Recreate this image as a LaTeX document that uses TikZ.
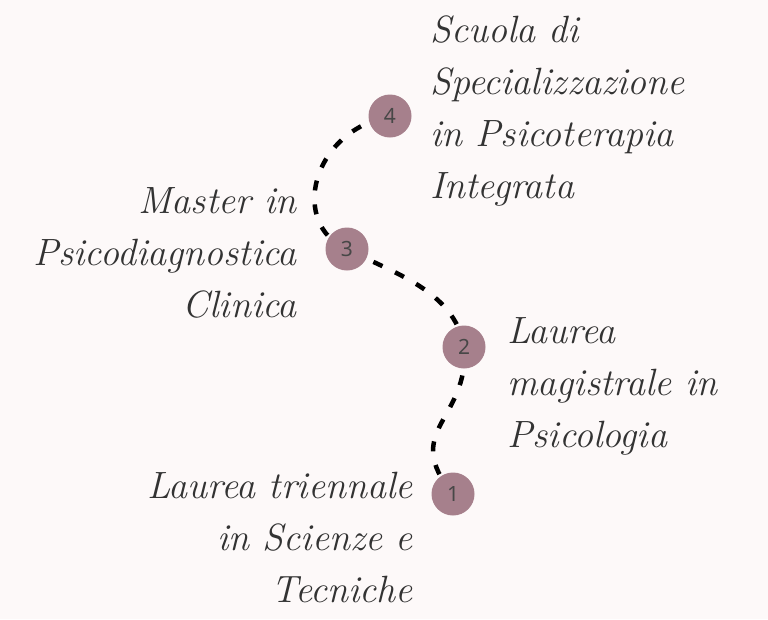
\documentclass[tikz,border=0pt]{standalone}
\usepackage{fontspec}
\newfontfamily\numfont{Noto Sans}
\usepackage{xcolor}
\definecolor{cMauve}{HTML}{A6808C}
\definecolor{cBlush}{HTML}{FDF9F9}
\definecolor{cInk}  {HTML}{333333}
\usepackage{tikz}
\usetikzlibrary{backgrounds}
\tikzset{
  stn/.style   = {circle, fill=cMauve, minimum size=43pt, inner sep=0pt,
                  font=\numfont\fontsize{21}{21}\selectfont, text=cInk!90},
  lbl/.style   = {inner sep=0pt, align=#1, text=cInk,
                  font=\itshape\fontsize{38}{52}\selectfont},
  lbl/.default = left,
  trail/.style = {line width=4.5pt, dash pattern=on 10pt off 14pt},
}

\begin{document}
\begin{tikzpicture}[x=1pt, y=-1pt]
  \useasboundingbox (0,0) rectangle (768,619);

  \node[stn] (s1) at (453,494) {1};
  \node[stn] (s2) at (464,347) {2};
  \node[stn] (s3) at (347,249) {3};
  \node[stn] (s4) at (390,116) {4};

  % anchors sit on the baseline of the last line
  \node[lbl=right, anchor=base east] (t1) at (413,602)
        {Laurea triennale\\in Scienze e\\Tecniche};
  \node[lbl, anchor=base west] (t2) at (507,447)
        {Laurea\\magistrale in\\Psicologia};
  \node[lbl=right, anchor=base east] (t3) at (297,317)
        {Master in\\Psicodiagnostica\\Clinica};
  \node[lbl, anchor=base west] (t4) at (430,198)
        {Scuola di\\Specializzazione\\in Psicoterapia\\Integrata};

  \begin{scope}[on background layer]
    \fill[cBlush] (0,0) rectangle (768,619);
    \draw[trail] (s1.center) .. controls +(-53,-64) and +(6,73)  .. (s2.center);
    \draw[trail] (s2.center) .. controls +(-9,-57)  and +(43,23) .. (s3.center);
    \draw[trail] (s3.center) .. controls +(-57,-24) and +(-80,16) .. (s4.center);
  \end{scope}
\end{tikzpicture}
\end{document}
